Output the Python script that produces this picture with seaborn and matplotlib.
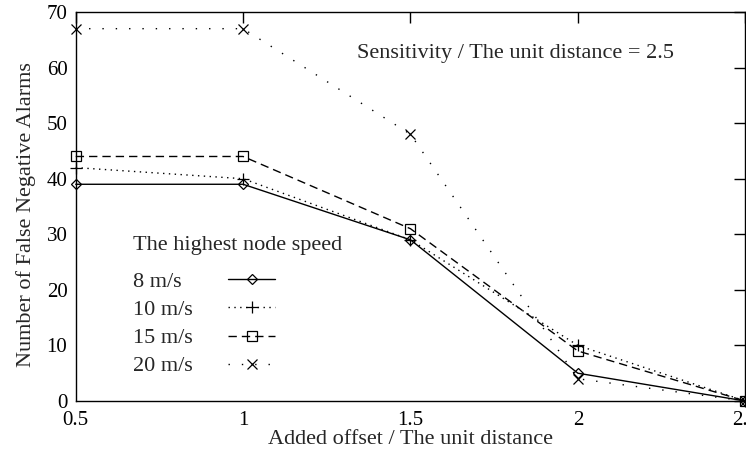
import matplotlib
matplotlib.use("Agg")
import matplotlib.pyplot as plt
import seaborn as sns
import pandas as pd

offsets = [0.5, 1.0, 1.5, 2.0, 2.5]
speed_8 = [39, 39, 29, 5, 0]
speed_10 = [42, 40, 29, 10, 0]
speed_15 = [44, 44, 31, 9, 0]
speed_20 = [67, 67, 48, 4, 0]
labels = ["8 m/s", "10 m/s", "15 m/s", "20 m/s"]

sns.set_theme(style="white")
plt.rcParams["font.family"] = ["Liberation Serif", "DejaVu Serif"]

fig = plt.figure(figsize=(7.46, 4.53), dpi=100)
ax = fig.add_axes([0.1015, 0.1148, 0.8975, 0.8587])

series = [speed_8, speed_10, speed_15, speed_20]
styles = [
    dict(marker="D", markersize=5, linestyle="-", linewidth=1.0),
    dict(marker="+", markersize=9, linestyle=(0, (1, 3.2)), linewidth=1.0),
    dict(marker="s", markersize=7, linestyle=(0, (6, 3.6)), linewidth=1.0),
    dict(marker="x", markersize=6.5, linestyle=(0, (1, 8.6)), linewidth=1.0),
]
for vals, lab, st in zip(series, labels, styles):
    df = pd.DataFrame({"offset": offsets, "alarms": vals})
    sns.lineplot(data=df, x="offset", y="alarms", ax=ax, color="black",
                 label=lab, markerfacecolor="none", markeredgecolor="black",
                 markeredgewidth=0.9, clip_on=False, **st)

ax.set_xlim(0.5, 2.5)
ax.set_ylim(0, 70)
ax.set_xticks([0.5, 1, 1.5, 2, 2.5])
ax.set_xticklabels(["0.5", "1", "1.5", "2", "2.5"])
ax.set_yticks(range(0, 71, 10))
ax.tick_params(direction="in", length=8, width=1, top=True, right=True,
               labelsize=15, colors="black")
ax.tick_params(axis="x", pad=7)
ax.tick_params(axis="y", pad=6)
for sp in ax.spines.values():
    sp.set_color("black")
    sp.set_linewidth(1.0)

ax.set_xlabel("Added offset / The unit distance", fontsize=16)
ax.xaxis.set_label_coords(0.5, -0.074, transform=ax.transAxes)
ax.set_ylabel("Number of False Negative Alarms", fontsize=16)
ax.yaxis.set_label_coords(-0.06, 0.478, transform=ax.transAxes)

ax.text(1.815, 62.6, "Sensitivity / The unit distance = 2.5", fontsize=16,
        ha="center", va="center")

leg = ax.legend(title="The highest node speed", loc="upper left",
                bbox_to_anchor=(0.069, 0.453), frameon=False, fontsize=16,
                title_fontsize=16, markerfirst=False, handlelength=2.1,
                handletextpad=1.6, labelspacing=0.34, alignment="left",
                borderpad=0)

# extra gap between the legend title and its entries
leg._legend_box.sep = 12

# left-justify the entry labels while keeping the keys in one column
fig.canvas.draw()
renderer = fig.canvas.get_renderer()
widths = [t.get_window_extent(renderer).width for t in leg.get_texts()]
wmax = max(widths)
column = leg._legend_handle_box.get_children()[0]
column.align = "left"
for item, w in zip(column.get_children(), widths):
    item.sep = item.sep + (wmax - w) * 72.0 / fig.dpi

fig.savefig("out.png", dpi=100)
